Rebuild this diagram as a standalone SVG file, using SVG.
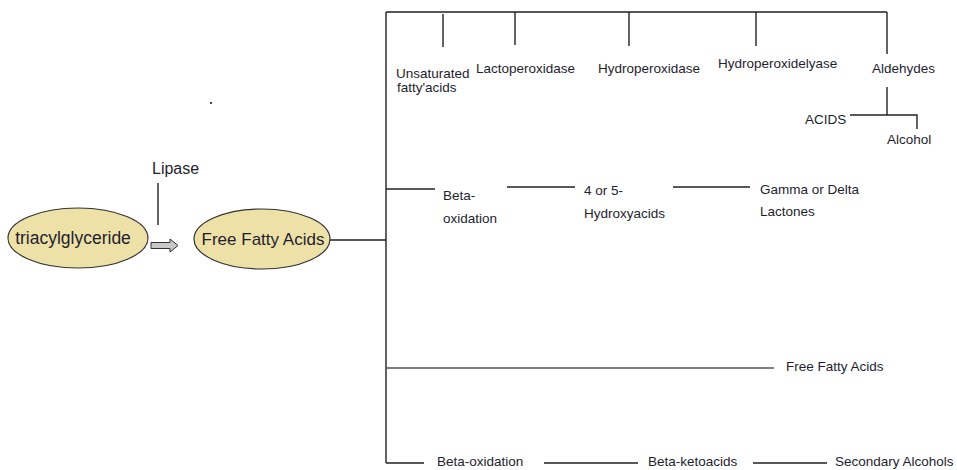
<svg xmlns="http://www.w3.org/2000/svg" width="957" height="470" viewBox="0 0 957 470">
<style>
.t{font-family:"Liberation Sans",Arial,sans-serif;font-size:13.5px;fill:#1e1e2e}
.big{font-size:17px}
.ln{stroke:#222;stroke-width:1.4;fill:none}
.gr{stroke:#555}
.ell{fill:#eee1a8;stroke:#333;stroke-width:1.2}
</style>
<rect width="957" height="470" fill="#fff"/>
<g id="connectors">
<path class="ln" d="M386 12V463M386 12H887M443 14V47M515 12V45M629 12V46M756 12V46M887 12V54"/>
<path class="ln" d="M887 87V115M850 115H917V129"/>
<path class="ln" d="M158 183V225"/>
<path class="ln" d="M330 240H386"/>
<path class="ln" d="M386 189H435M507 187H575M673 187H750"/>
<path class="ln gr" d="M386 368H774"/>
<path class="ln" d="M386 463H424M544 463H638M753 463H827"/>
<polygon points="151,242.5 170,242.5 170,239 178,245.5 170,252 170,248.5 151,248.5" fill="#c8c8c8" stroke="#333" stroke-width="1"/>
<rect x="210" y="102" width="2" height="2" fill="#444"/>
</g>
<g id="triacylglyceride"><ellipse class="ell" cx="78" cy="238" rx="70" ry="30"/><text class="t" x="73" y="244" text-anchor="middle" style="font-size:17.5px">triacylglyceride</text></g>
<g id="lipase"><text class="t" x="152" y="174" style="font-size:16px">Lipase</text></g>
<g id="ffa"><ellipse class="ell" cx="262" cy="239" rx="68" ry="30"/><text class="t big" x="263" y="245" text-anchor="middle">Free Fatty Acids</text></g>
<g id="unsaturated"><text class="t" x="396" y="78">Unsaturated</text><text class="t" x="397" y="92">fatty'acids</text></g>
<g id="lactoperoxidase"><text class="t" x="476" y="73">Lactoperoxidase</text></g>
<g id="hydroperoxidase"><text class="t" x="598" y="73">Hydroperoxidase</text></g>
<g id="hydroperoxidelyase"><text class="t" x="718" y="68">Hydroperoxidelyase</text></g>
<g id="aldehydes"><text class="t" x="872" y="73">Aldehydes</text></g>
<g id="acids"><text class="t" x="805" y="124">ACIDS</text></g>
<g id="alcohol"><text class="t" x="887" y="144">Alcohol</text></g>
<g id="beta-ox1"><text class="t" x="443" y="200">Beta-</text><text class="t" x="443" y="223">oxidation</text></g>
<g id="hydroxyacids"><text class="t" x="584" y="195">4 or 5-</text><text class="t" x="584" y="218">Hydroxyacids</text></g>
<g id="lactones"><text class="t" x="760" y="194">Gamma or Delta</text><text class="t" x="760" y="216">Lactones</text></g>
<g id="ffa2"><text class="t" x="786" y="371">Free Fatty Acids</text></g>
<g id="beta-ox2"><text class="t" x="437" y="466">Beta-oxidation</text></g>
<g id="ketoacids"><text class="t" x="648" y="466">Beta-ketoacids</text></g>
<g id="secondary"><text class="t" x="835" y="466">Secondary Alcohols</text></g>
</svg>
